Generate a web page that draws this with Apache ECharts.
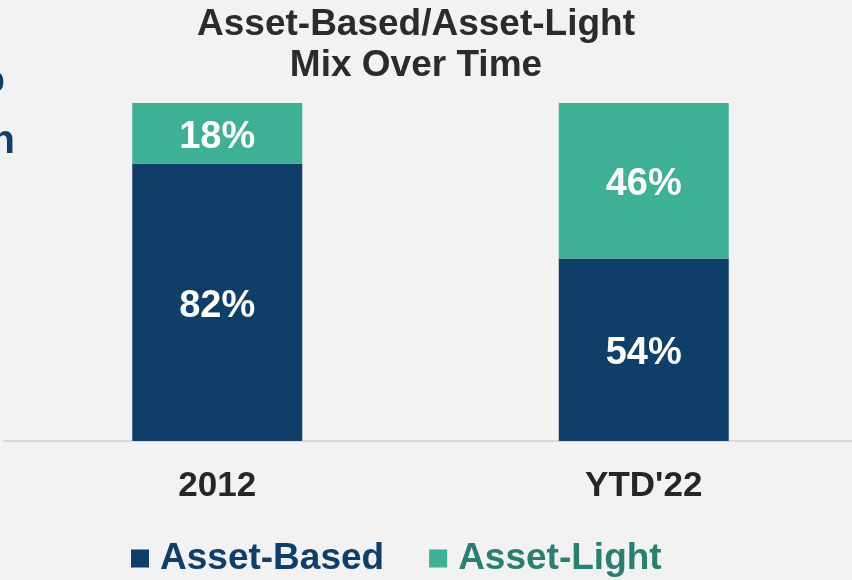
<!DOCTYPE html>
<html>
<head>
<meta charset="utf-8">
<script src="https://cdn.jsdelivr.net/npm/echarts@6/dist/echarts.min.js"></script>
<style>
  html, body { margin: 0; padding: 0; background: #f2f2f2; overflow: hidden; }
  #chart { width: 862px; height: 580px; }
</style>
</head>
<body>
<div id="chart"></div>
<script>
const categories = ['2012', "YTD'22"];
const assetBased = [82, 54];
const assetLight = [18, 46];
const seriesNames = ['Asset-Based', 'Asset-Light'];

const font = '"Liberation Sans", Arial, sans-serif';
let ec = echarts.init(document.getElementById('chart'));

let labelStyle = {
    show: true,
    position: 'inside',
    offset: [0, 4],
    formatter: '{c}%',
    fontFamily: font,
    fontSize: 38,
    fontWeight: 'bold',
    color: '#ffffff'
};

let option = {
    backgroundColor: '#f2f2f2',
    animation: false,
    title: {
        text: 'Asset-Based/Asset-Light\nMix Over Time',
        left: 411,
        textAlign: 'center',
        top: -1,
        textStyle: {
            fontFamily: font,
            fontSize: 37,
            fontWeight: 'bold',
            color: '#2b2b2b',
            lineHeight: 41
        }
    },
    legend: {
        top: 535,
        left: 126,
        itemWidth: 18,
        itemHeight: 18,
        itemGap: 45,
        icon: 'rect',
        data: [
            {name: seriesNames[0], textStyle: {color: '#0f3f68'}},
            {name: seriesNames[1], textStyle: {color: '#2a8070'}}
        ],
        textStyle: {
            fontFamily: font,
            fontSize: 37,
            fontWeight: 'bold',
            padding: [0, 0, 0, 6]
        }
    },
    graphic: [
        {type: 'text', style: {x: 5, y: 102, text: 'o', textAlign: 'right', textVerticalAlign: 'bottom', font: 'bold 40px ' + font, fill: '#0f3f68'}},
        {type: 'text', style: {x: 15, y: 162, text: 'n', textAlign: 'right', textVerticalAlign: 'bottom', font: 'bold 40px ' + font, fill: '#0f3f68'}}
    ],
    grid: {
        left: 4,
        width: 853,
        top: 103,
        bottom: 139
    },
    xAxis: {
        type: 'category',
        data: categories,
        axisTick: {show: false},
        axisLine: {lineStyle: {color: '#d9d9d9', width: 2}},
        axisLabel: {
            margin: 28,
            fontFamily: font,
            fontSize: 35,
            fontWeight: 'bold',
            color: '#262626'
        }
    },
    yAxis: {
        type: 'value',
        min: 0,
        max: 100,
        show: false,
        splitLine: {show: false}
    },
    series: [{
        name: seriesNames[0],
        type: 'bar',
        stack: 'mix',
        barWidth: 170,
        itemStyle: {color: '#0f3f68'},
        label: labelStyle,
        data: assetBased
    }, {
        name: seriesNames[1],
        type: 'bar',
        stack: 'mix',
        barWidth: 170,
        itemStyle: {color: '#3eb096'},
        label: labelStyle,
        data: assetLight
    }]
};

ec.setOption(option);
</script>
</body>
</html>
